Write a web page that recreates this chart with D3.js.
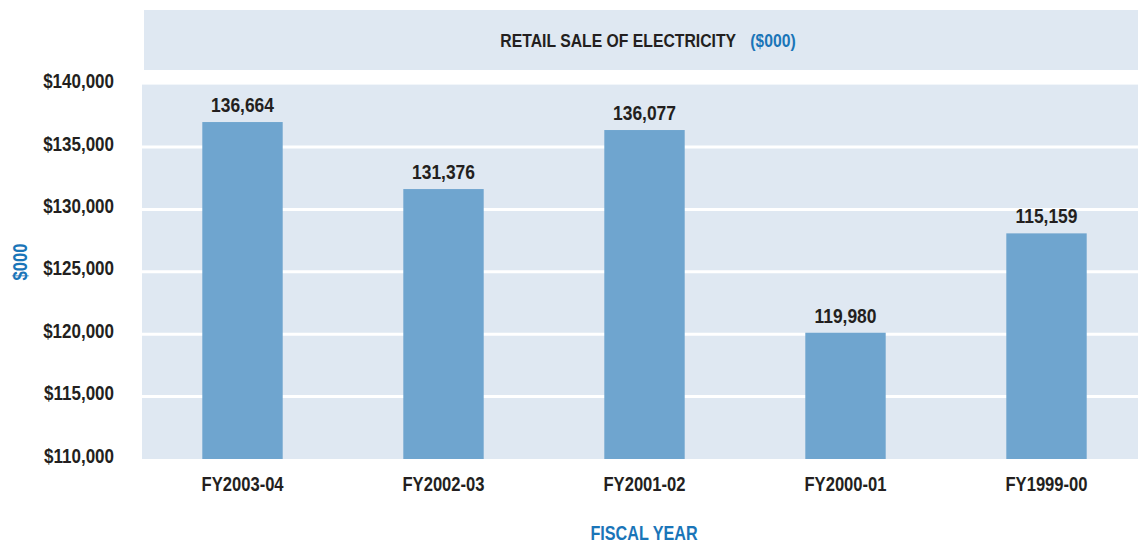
<!DOCTYPE html>
<html>
<head>
<meta charset="utf-8">
<script src="https://cdn.jsdelivr.net/npm/d3@7"></script>
<style>
  body { margin: 0; background: #fff; }
  svg { display: block; }
  text { font-family: "Liberation Sans", Arial, sans-serif; font-weight: bold; }
  /* squeeze the text to look like the condensed face of the original */
  .cond { transform-box: fill-box; transform-origin: center; transform: scaleX(0.83); }
  .cond-r { transform-box: fill-box; transform-origin: right; transform: scaleX(0.85); }
</style>
</head>
<body>
<svg id="chart" width="1138" height="543"></svg>
<script>
// fiscal years, newest first as in the original
const years = ['FY2003-04', 'FY2002-03', 'FY2001-02', 'FY2000-01', 'FY1999-00'];
// bar heights as drawn in the picture ($000)
const barValues = [137000, 131630, 136360, 120120, 128080];
// value labels printed above the bars
const barLabels = ['136,664', '131,376', '136,077', '119,980', '115,159'];
const yTicks = [110000, 115000, 120000, 125000, 130000, 135000, 140000];

const svg = d3.select('#chart');
const W = 1138;

const plotLeft = 142, plotRight = 1147, plotTop = 84.6, plotBottom = 459;
const ink = '#231f20';
const blue = '#1a75b8';
const bandBg = '#dfe8f2';
const barFill = '#6fa5cf';

const x = d3.scaleBand()
    .domain(years)
    .range([plotLeft, plotRight])
    .paddingInner(0.6)
    .paddingOuter(0.3);

const y = d3.scaleLinear()
    .domain([110000, 140000])
    .range([plotBottom, plotTop]);

// title band
svg.append('rect')
    .attr('x', 144).attr('y', 10)
    .attr('width', W - 144).attr('height', 60)
    .attr('fill', bandBg);

const title = svg.append('text')
    .attr('class', 'cond')
    .attr('x', 648).attr('y', 47)
    .attr('text-anchor', 'middle')
    .attr('font-size', 19)
    .attr('fill', ink);
title.append('tspan').text('RETAIL SALE OF ELECTRICITY');
title.append('tspan').attr('dx', 17).attr('fill', blue).text('($000)');

// plot background
svg.append('rect')
    .attr('x', plotLeft).attr('y', plotTop)
    .attr('width', W - plotLeft).attr('height', plotBottom - plotTop)
    .attr('fill', bandBg);

// white separators between bands
svg.append('g')
    .selectAll('line')
    .data(yTicks.slice(1, -1))
    .join('line')
    .attr('x1', plotLeft).attr('x2', W)
    .attr('y1', d => y(d)).attr('y2', d => y(d))
    .attr('stroke', '#fff')
    .attr('stroke-width', 3);

// bars
svg.append('g')
    .selectAll('rect')
    .data(years)
    .join('rect')
    .attr('x', d => x(d))
    .attr('y', (d, i) => y(barValues[i]))
    .attr('width', x.bandwidth())
    .attr('height', (d, i) => plotBottom - y(barValues[i]))
    .attr('fill', barFill);

// value labels
svg.append('g')
    .selectAll('text')
    .data(years)
    .join('text')
    .attr('class', 'cond')
    .attr('x', d => x(d) + x.bandwidth() / 2)
    .attr('y', (d, i) => y(barValues[i]) - 10)
    .attr('text-anchor', 'middle')
    .attr('font-size', 21)
    .attr('fill', ink)
    .text((d, i) => barLabels[i]);

// y axis
const yAxis = svg.append('g')
    .attr('transform', `translate(${plotLeft},0)`)
    .call(d3.axisLeft(y)
        .tickValues(yTicks)
        .tickSize(0)
        .tickPadding(28)
        .tickFormat(d => '$' + d3.format(',')(d)));
yAxis.select('.domain').remove();
yAxis.attr('font-family', null).attr('font-size', null);
yAxis.selectAll('text')
    .attr('class', 'cond-r')
    .attr('font-size', 20)
    .attr('fill', ink)
    .attr('dy', '0.15em');

// x axis
const xAxis = svg.append('g')
    .attr('transform', `translate(0,${plotBottom})`)
    .call(d3.axisBottom(x).tickSize(0).tickPadding(18));
xAxis.select('.domain').remove();
xAxis.attr('font-family', null).attr('font-size', null);
xAxis.selectAll('text')
    .attr('class', 'cond')
    .attr('font-size', 20)
    .attr('fill', ink);

// axis titles
svg.append('text')
    .attr('class', 'cond')
    .attr('x', 644).attr('y', 540)
    .attr('text-anchor', 'middle')
    .attr('font-size', 19.5)
    .attr('fill', blue)
    .text('FISCAL YEAR');

svg.append('g')
    .attr('transform', 'translate(27,262) rotate(-90)')
    .append('text')
    .attr('class', 'cond')
    .attr('text-anchor', 'middle')
    .attr('font-size', 20)
    .attr('fill', blue)
    .text('$000');
</script>
</body>
</html>
